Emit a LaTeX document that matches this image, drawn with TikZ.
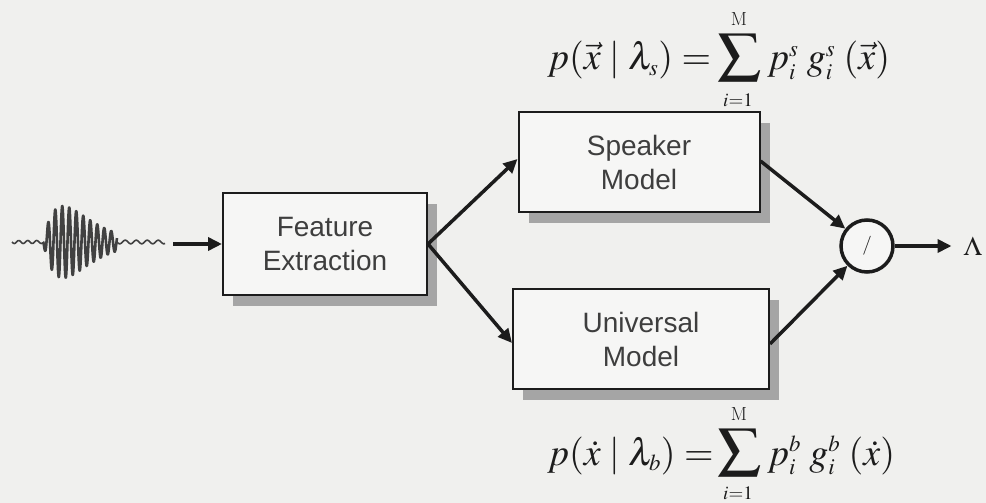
\documentclass[tikz,border=0pt]{standalone}
\usepackage{mathptmx}
\usepackage[no-math]{fontspec}
\newfontfamily\boxfont{Liberation Sans}
\newfontfamily\timesfont{Liberation Serif}
\usetikzlibrary{arrows.meta,shadows}

\definecolor{paper}{RGB}{240,240,238}
\definecolor{boxfill}{RGB}{246,246,245}
\definecolor{ink}{RGB}{28,28,28}
\definecolor{shade}{RGB}{165,165,165}
\definecolor{wave}{RGB}{65,65,65}

\tikzset{
  block/.style={draw=ink, line width=2pt, fill=boxfill, text=ink!85,
    font=\boxfont\fontsize{28}{34}\selectfont, align=center, inner sep=0pt,
    drop shadow={shadow xshift=10pt, shadow yshift=-11pt, fill=shade, opacity=1}},
  flow/.style={draw=ink, line width=3.5pt, -{Triangle[length=14pt,width=13pt]}},
  formula/.style={font=\fontsize{38}{44}\selectfont, text=ink, inner sep=0pt, anchor=base west},
  bigsum/.style={font=\fontsize{40}{46}\selectfont, text=ink, inner sep=0pt},
  limit/.style={font=\fontsize{19}{21}\selectfont, text=ink, inner sep=0pt},
  signal/.style={draw=wave, line width=2.6pt, line join=round},
}

\newcommand{\sss}[1]{{\scriptscriptstyle #1}}
\newcommand{\sumglyph}{\scalebox{1.08}[0.96]{$\displaystyle\sum$}}

\begin{document}
\begin{tikzpicture}[x=1pt, y=-1pt]
  % page
  \fill[paper] (0,0) rectangle (986,503);
  \useasboundingbox (0,0) rectangle (986,503);

  % speech waveform
  \draw[signal, line width=1.6pt] plot[domain=12:43, samples=40]
        (\x, {242 + 1.5*sin(40*(\x-12))});
  \draw[signal] plot[domain=43:117, samples=420]
        (\x, {242 + 36*((\x-43)/20)*exp(1-(\x-43)/20)*sin(51.43*(\x-43))});
  \draw[signal, line width=1.6pt] plot[domain=117:165, samples=60]
        (\x, {242 + 1.8*sin(32.7*(\x-117))});
  \coordinate (wEnd) at (173,244);

  % processing blocks
  \node[block, minimum width=204pt, minimum height=102pt] (FE) at (325,244)
        {Feature\\Extraction};
  \node[block, minimum width=241pt, minimum height=100pt] (SM) at (639,162)
        {Speaker\\Model};
  \node[block, minimum width=256pt, minimum height=100pt] (UM) at (641,339)
        {Universal\\Model};

  % ratio node
  \node[circle, draw=ink, line width=3.5pt, fill=boxfill, minimum size=52pt,
        inner sep=0pt, text=ink, font=\fontsize{19}{19}\selectfont] (R) at (867,246) {$/$};
  \node[font=\timesfont\fontsize{27}{27}\selectfont, text=ink, inner sep=0pt]
        (L) at (973,246) {$\Lambda$};

  % connectors
  \draw[flow] (wEnd) -- (FE.west);
  \draw[flow] (FE.east) -- ([yshift=3pt]SM.west);
  \draw[flow] (FE.east) -- ([yshift=-4pt]UM.west);
  \draw[flow] ([yshift=1pt]SM.east) -- (R);
  \draw[flow] ([yshift=-5pt]UM.east) -- (R);
  \draw[flow, shorten >=12pt] (R) -- (L);

  % speaker model likelihood
  \node[formula] (fSl) at (547,70) {$p(\vec{x}\mid\lambda_{\sss{s}})=$};
  \node[bigsum] (fSsum) at (740,58) {\sumglyph};
  \node[formula] (fSr) at (767,70)
    {$p_{\sss{i}}^{\sss{s}}\; g_{\sss{i}}^{\sss{s}}\;(\vec{x})$};
  \node[limit] (fSup) at (739,19) {M};
  \node[limit] (fSlo) at (738,100) {$i{=}1$};

  % background model likelihood
  \node[formula] (fBl) at (547,465) {$p(\dot{x}\mid\lambda_{\sss{b}})=$};
  \node[bigsum] (fBsum) at (740,453) {\sumglyph};
  \node[formula] (fBr) at (767,465)
    {$p_{\sss{i}}^{\sss{b}}\; g_{\sss{i}}^{\sss{b}}\;(\dot{x})$};
  \node[limit] (fBup) at (739,414) {M};
  \node[limit] (fBlo) at (738,493) {$i{=}1$};
\end{tikzpicture}
\end{document}
